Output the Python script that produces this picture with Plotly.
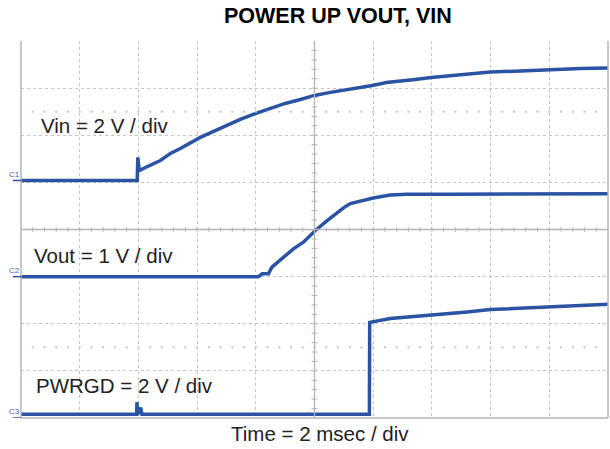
import numpy as np
import plotly.graph_objects as go

# ---- captured waveforms (time in ms, amplitude in volts) ----
vin_t = [0, 3.96, 3.98, 4.03, 4.24, 4.75, 5.09, 5.43, 6.11, 6.62, 7.13, 7.47,
         7.98, 8.49, 9.0, 9.52, 10.0, 10.54, 10.98, 11.46, 11.97, 12.45,
         12.92, 13.43, 13.98, 14.97, 15.99, 17.01, 18.0, 19.06, 20.0]
vin_v = [0, 0, 0.98, 0.42, 0.55, 0.85, 1.15, 1.36, 1.83, 2.12, 2.38, 2.59,
         2.84, 3.06, 3.27, 3.44, 3.61, 3.74, 3.82, 3.93, 4.03, 4.16,
         4.24, 4.29, 4.37, 4.5, 4.6, 4.65, 4.71, 4.75, 4.77]

vout_t = [0, 8.09, 8.22, 8.43, 8.55, 8.94, 9.28, 9.62, 10.03, 10.43, 10.77,
          10.99, 11.22, 11.56, 11.77, 12.0, 12.58, 13.15, 14.63, 20.0]
vout_v = [0, 0, 0.06, 0.06, 0.2, 0.41, 0.59, 0.73, 0.98, 1.19, 1.36,
          1.46, 1.55, 1.61, 1.645, 1.67, 1.73, 1.75, 1.75, 1.76]

pg_t = [0, 3.94, 3.95, 3.98, 4.08, 4.12, 11.87, 11.88, 12.58, 14.05, 15.2,
        15.99, 18.0, 20.0]
pg_v = [0.16, 0.16, 0.67, 0.16, 0.44, 0.16, 0.16, 4.06, 4.22, 4.36, 4.5,
        4.6, 4.72, 4.83]

# channel labels, vertical scale (V/div) and ground position (div)
ch_names = ["C1", "C2", "C3"]
ch_labels = ["Vin = 2 V / div", "Vout = 1 V / div", "PWRGD = 2 V / div"]
ch_scale = [2.0, 1.0, 2.0]
ch_offset = [5.04, 3.0, 0.0]

title_text = "POWER UP VOUT, VIN"
time_label = "Time = 2 msec / div"
ms_per_div = 2.0
n_xdiv, n_ydiv = 10, 8

TRACE = "#2a53a3"
GRID = "#c4c4c4"
AXIS = "#b4b4b4"
FONT = "Liberation Sans, Arial, sans-serif"

x_max = ms_per_div * n_xdiv
fig = go.Figure()

series = [(vin_t, vin_v), (vout_t, vout_v), (pg_t, pg_v)]
for (t, v), sc, off, nm in zip(series, ch_scale, ch_offset, ch_names):
    y = off + np.asarray(v) / sc
    fig.add_trace(go.Scatter(x=t, y=y, mode="lines", name=nm,
                             line=dict(color=TRACE, width=3.5),
                             hoverinfo="skip", showlegend=False))

shapes = []
# center cross
shapes.append(dict(type="line", xref="x", yref="y", x0=x_max / 2, x1=x_max / 2,
                   y0=0, y1=n_ydiv, line=dict(color=AXIS, width=1.3)))
shapes.append(dict(type="line", xref="x", yref="y", x0=0, x1=x_max,
                   y0=n_ydiv / 2, y1=n_ydiv / 2, line=dict(color=AXIS, width=1.3)))
# minor ticks along the center cross
for k in range(1, n_ydiv * 5):
    yy = k * 0.2
    shapes.append(dict(type="line", xref="x", yref="y",
                       x0=x_max / 2 - 0.1, x1=x_max / 2 + 0.1, y0=yy, y1=yy,
                       line=dict(color=AXIS, width=1)))
for k in range(1, n_xdiv * 5):
    xx = k * ms_per_div / 5
    shapes.append(dict(type="line", xref="x", yref="y", x0=xx, x1=xx,
                       y0=n_ydiv / 2 - 0.05, y1=n_ydiv / 2 + 0.05,
                       line=dict(color=AXIS, width=1)))
# frame: left, right, bottom
for x0, y0, x1, y1 in [(0, 0, 0, 1), (1, 0, 1, 1), (0, 0, 1, 0)]:
    shapes.append(dict(type="line", xref="paper", yref="paper",
                       x0=x0, x1=x1, y0=y0, y1=y1,
                       line=dict(color=AXIS, width=1.5)))
# ground markers for each channel
for off in ch_offset:
    shapes.append(dict(type="line", xref="paper", yref="y",
                       x0=-0.014, x1=0, y0=off, y1=off,
                       line=dict(color=TRACE, width=1.5)))

# dotted reference rows at +/-2.5 div
dot_x = [k * ms_per_div / 5 for k in range(1, n_xdiv * 5)]
for ry in (n_ydiv / 2 + 2.5, n_ydiv / 2 - 2.5):
    fig.add_trace(go.Scatter(x=dot_x, y=[ry] * len(dot_x), mode="markers",
                             marker=dict(color=GRID, size=2, symbol="square"),
                             hoverinfo="skip", showlegend=False))

annotations = [
    dict(text="<b>" + title_text + "</b>", xref="paper", yref="paper",
         x=0.5397, y=1.0655, xanchor="center", yanchor="middle",
         showarrow=False, font=dict(family=FONT, size=21.5, color="#000")),
    dict(text=time_label, xref="paper", yref="paper", x=0.51, y=-0.0406,
         xanchor="center", yanchor="middle", showarrow=False,
         font=dict(family=FONT, size=20.5, color="#222")),
]
label_pos = [(0.62, 6.21), (0.38, 3.45), (0.45, 0.69)]
for txt, (lx, ly) in zip(ch_labels, label_pos):
    annotations.append(dict(text=txt, xref="x", yref="y", x=lx, y=ly,
                            xanchor="left", yanchor="middle", showarrow=False,
                            font=dict(family=FONT, size=20.5, color="#222")))
for nm, off in zip(ch_names, ch_offset):
    annotations.append(dict(text=nm, xref="paper", yref="y", x=-0.011,
                            y=off + 0.13, xanchor="center", yanchor="middle",
                            showarrow=False,
                            font=dict(family=FONT, size=8, color="#3a62b4")))

fig.update_layout(
    width=610, height=449,
    margin=dict(l=20.7, r=2.3, t=40.7, b=31.3),
    paper_bgcolor="white", plot_bgcolor="white",
    shapes=shapes, annotations=annotations,
    xaxis=dict(range=[0, x_max], dtick=ms_per_div, showticklabels=False,
               showgrid=True, gridcolor=GRID, griddash="dot", gridwidth=1,
               zeroline=False, showline=False, ticks=""),
    yaxis=dict(range=[0, n_ydiv], dtick=1, showticklabels=False,
               showgrid=True, gridcolor=GRID, griddash="dot", gridwidth=1,
               zeroline=False, showline=False, ticks=""),
)

fig.write_html("out.html")
